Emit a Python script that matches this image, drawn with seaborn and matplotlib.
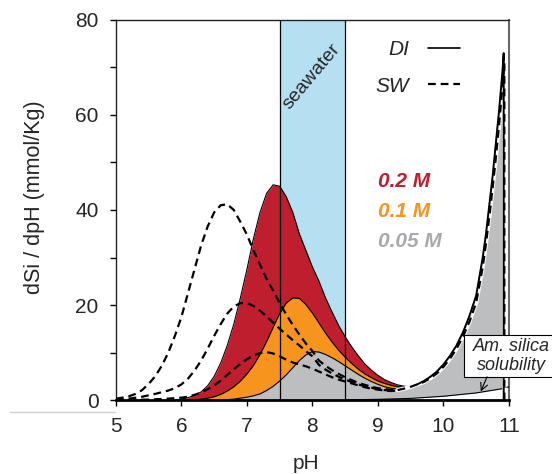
"""
dSi/dpH curves for DI and seawater (SW) at three silica concentrations.
Saves out.png (552x474).
"""

import matplotlib
matplotlib.use("Agg")  # headless-safe backend
import matplotlib.pyplot as plt
import matplotlib.lines as mlines
import matplotlib.patches as mpatches
from matplotlib.ticker import MultipleLocator
import pandas as pd
import seaborn as sns

# --- DI curves (filled) ---
ph_02 = [5.9, 6.0, 6.1, 6.2, 6.3, 6.4, 6.5, 6.6, 6.7, 6.8, 6.9, 7.0, 7.1, 7.2, 7.3,
         7.4, 7.5, 7.6, 7.7, 7.8, 7.9, 8.0, 8.1, 8.2, 8.3, 8.4, 8.5, 8.6, 8.7, 8.8,
         8.9, 9.0, 9.1, 9.2, 9.3, 9.4, 9.5, 9.6]
di_02 = [0, 0.2, 0.5, 1.0, 1.7, 3.0, 5.0, 7.8, 11.5, 16, 21.5, 27.5, 34, 39.5, 43.5,
         45.3, 45, 42.8, 39.5, 35, 31.5, 28, 25, 21.5, 18.5, 15.7, 13.3, 11.2, 9.3, 7.6,
         6.3, 5.2, 4.3, 3.7, 3.2, 2.9, 2.8, 3.3]

ph_01 = [6.2, 6.3, 6.4, 6.5, 6.6, 6.7, 6.8, 6.9, 7.0, 7.1, 7.2, 7.3, 7.4, 7.5, 7.6,
         7.7, 7.8, 7.9, 8.0, 8.1, 8.2, 8.3, 8.4, 8.5, 8.6, 8.7, 8.8, 8.9, 9.0, 9.1,
         9.2, 9.3, 9.4, 9.5, 9.6]
di_01 = [0, 0.2, 0.4, 0.7, 1.2, 1.9, 2.8, 4.0, 5.5, 7.3, 9.6, 12.3, 15.3, 18.2, 20.4,
         21.5, 21.4, 20.1, 18.3, 16.2, 14.1, 12.2, 10.5, 9.0, 7.7, 6.5, 5.5, 4.7, 4.0, 3.5,
         3.1, 2.8, 2.7, 2.7, 3.3]

ph_005 = [6.6, 6.8, 6.9, 7.0, 7.1, 7.2, 7.3, 7.4, 7.5, 7.6, 7.7, 7.8, 7.9, 8.0, 8.1,
          8.2, 8.3, 8.4, 8.5, 8.6, 8.7, 8.8, 8.9, 9.0, 9.1, 9.2, 9.3, 9.4, 9.5, 9.6,
          9.7, 9.8, 9.9, 10.0, 10.1, 10.2, 10.3, 10.4, 10.5, 10.6, 10.65, 10.7, 10.75,
          10.8, 10.85, 10.9, 10.92, 10.92]
di_005 = [0, 0.2, 0.4, 0.6, 0.9, 1.3, 2.0, 2.9, 4.0, 5.3, 6.8, 8.3, 9.5, 10.2, 10.1,
          9.6, 8.9, 8.1, 7.2, 6.3, 5.4, 4.6, 3.9, 3.3, 2.8, 2.5, 2.3, 2.4, 2.7, 3.3,
          4.0, 4.9, 6.0, 7.5, 9.3, 11.5, 14.3, 17.8, 22, 30, 35, 41, 47,
          54, 61, 69, 73, 0]

# --- SW curves (dashed) ---
ph_sw02 = [5.0, 5.1, 5.2, 5.3, 5.4, 5.5, 5.6, 5.7, 5.8, 5.9, 6.0, 6.1, 6.2, 6.3, 6.4,
           6.5, 6.6, 6.7, 6.8, 6.9, 7.0, 7.1, 7.2, 7.3, 7.4, 7.5, 7.6, 7.7, 7.8, 7.9,
           8.0, 8.1, 8.2, 8.3, 8.4, 8.5, 8.6, 8.7, 8.8, 8.9, 9.0, 9.1, 9.2, 9.3]
sw_02 = [0.3, 0.5, 0.8, 1.3, 2.1, 3.4, 5.0, 7.2, 10.0, 13.5, 17.5, 22.5, 27.5, 32.5, 36.5,
         39.5, 41.0, 41.2, 40.0, 37.5, 34.8, 31.5, 28.5, 25.5, 23, 20.4, 18, 15.8, 13.8, 11.9,
         10.3, 8.3, 7.2, 6.3, 5.5, 4.8, 4.2, 3.6, 3.2, 2.8, 2.5, 2.3, 2.2, 2.3]

ph_sw01 = [5.0, 5.2, 5.4, 5.6, 5.8, 5.9, 6.0, 6.1, 6.2, 6.3, 6.4, 6.5, 6.6, 6.7, 6.8,
           6.9, 7.0, 7.1, 7.2, 7.3, 7.4, 7.5, 7.6, 7.7, 7.8, 7.9, 8.0, 8.1, 8.2, 8.3,
           8.4, 8.5, 8.6, 8.7, 8.8, 8.9, 9.0, 9.1, 9.2, 9.3]
sw_01 = [0.1, 0.3, 0.7, 1.3, 2.0, 2.5, 3.3, 4.5, 6.2, 8.3, 10.8, 13.5, 16, 18.2, 19.7,
         20.4, 20.4, 19.8, 18.8, 17.6, 16.3, 15.0, 13.8, 12.6, 11.5, 10.3, 9.2, 7.4, 6.4, 5.6,
         4.9, 4.3, 3.8, 3.3, 2.9, 2.6, 2.3, 2.1, 2.0, 2.1]

ph_sw005 = [5.0, 5.5, 5.8, 6.0, 6.1, 6.2, 6.3, 6.4, 6.5, 6.6, 6.7, 6.8, 6.9, 7.0, 7.1,
            7.2, 7.3, 7.4, 7.5, 7.6, 7.7, 7.8, 7.9, 8.0, 8.1, 8.2, 8.3, 8.4, 8.5, 8.6,
            8.7, 8.8, 8.9, 9.0, 9.1, 9.2, 9.3]
sw_005 = [0, 0.1, 0.3, 0.5, 0.7, 1.1, 1.6, 2.3, 3.1, 4.1, 5.3, 6.5, 7.6, 8.6, 9.4,
          9.9, 10.1, 9.8, 9.2, 8.5, 7.9, 7.5, 7.1, 6.6, 6.0, 5.4, 4.8, 4.3, 3.9, 3.5,
          3.1, 2.7, 2.4, 2.2, 2.0, 1.9, 2.0]

# shared SW rise at high pH
ph_swrise = [9.3, 9.4, 9.5, 9.6, 9.7, 9.8, 9.9, 10.0, 10.1, 10.2, 10.3, 10.4, 10.5,
             10.6, 10.65, 10.7, 10.75, 10.8, 10.85, 10.9, 10.93, 10.93]
sw_rise = [2.1, 2.4, 2.8, 3.3, 3.8, 4.6, 5.6, 7.0, 8.7, 10.8, 13.4, 16.6, 20.5,
           28, 33, 38.5, 44.5, 51, 58, 66, 71, 0]

# amorphous silica solubility
ph_sol = [8.5, 9.0, 9.5, 10.0, 10.5, 10.9, 11.0]
sol = [0.05, 0.15, 0.35, 0.8, 1.5, 2.4, 2.8]

seawater_ph = [7.5, 8.5]
conc_labels = ["0.2 M", "0.1 M", "0.05 M"]
conc_label_y = [46, 39.6, 33.3]

RED = "#BE1E2D"
ORANGE = "#F7941D"
GREY = "#BCBEC0"
GREY_TXT = "#A7A9AC"
BLUE = "#B5E0F2"
DASH = (0, (3.5, 2.2))

sns.set_style("ticks")
plt.rcParams["font.family"] = ["Liberation Sans", "DejaVu Sans"]

fig = plt.figure(figsize=(5.52, 4.74), dpi=100)
ax = fig.add_axes([0.210, 0.156, 0.712, 0.802])

# seawater band
ax.axvspan(seawater_ph[0], seawater_ph[1], color=BLUE, lw=0, zorder=0.5)

# DI fills
for ph, di, c, z in [(ph_02, di_02, RED, 1), (ph_01, di_01, ORANGE, 2), (ph_005, di_005, GREY, 3)]:
    ax.fill_between(ph, di, color=c, lw=0, zorder=z)
    ax.plot(ph, di, color="black", lw=0.8, zorder=z + 0.1)
ax.fill_between(ph_sol[:-1], sol[:-1], color="white", lw=0, zorder=3.2)
ax.plot(ph_sol, sol, color="black", lw=0.8, zorder=3.3)

for v in seawater_ph:
    ax.axvline(v, color="black", lw=0.9, zorder=4)

# SW dashed lines
sw = pd.concat([
    pd.DataFrame({"pH": ph_sw02, "dSi": sw_02, "set": "0.2"}),
    pd.DataFrame({"pH": ph_sw01, "dSi": sw_01, "set": "0.1"}),
    pd.DataFrame({"pH": ph_sw005, "dSi": sw_005, "set": "0.05"}),
])
for name, d in sw.groupby("set"):
    sns.lineplot(data=d, x="pH", y="dSi", ax=ax, color="black", lw=1.6,
                 linestyle=DASH, sort=False, estimator=None, zorder=5)
ax.plot(ph_swrise, sw_rise, color="white", lw=3, zorder=5)
sns.lineplot(x=ph_swrise, y=sw_rise, ax=ax, color="black", lw=1.6,
             linestyle=DASH, sort=False, estimator=None, zorder=5.5)
ax.plot(ph_005[29:], di_005[29:], color="black", lw=1.4, zorder=5.6)

# axes styling
ax.set_xlim(5, 11)
ax.set_ylim(0, 80)
ax.set_xlabel("")
ax.set_ylabel("")
ax.xaxis.set_major_locator(MultipleLocator(1))
ax.yaxis.set_major_locator(MultipleLocator(20))
ax.yaxis.set_minor_locator(MultipleLocator(10))
ax.tick_params(axis="both", which="both", direction="out", length=4.5, width=1,
               labelsize=15, color="black")
ax.tick_params(axis="y", pad=8)
ax.tick_params(axis="x", pad=8)
for s in ["left", "top"]:
    ax.spines[s].set_visible(True)
    ax.spines[s].set_color("#222222")
    ax.spines[s].set_linewidth(1)
ax.spines["right"].set_visible(True)
ax.spines["right"].set_color("#666666")
ax.spines["right"].set_linewidth(1.5)
ax.spines["bottom"].set_color("black")
ax.spines["bottom"].set_linewidth(2)
ax.spines["bottom"].set_zorder(6)

# labels
fig.text(35 / 552, 1 - 197 / 474, "dSi / dpH (mmol/Kg)", rotation=90,
         ha="center", va="center", fontsize=15.5)
fig.text(306 / 552, 5 / 474, "pH", ha="center", va="baseline", fontsize=15)

ax.text(7.99, 68, "seawater", rotation=50, ha="center", va="center",
        fontsize=14, zorder=7)

for lab, y, c in zip(conc_labels, conc_label_y, [RED, ORANGE, GREY_TXT]):
    ax.text(9.0, y, lab, color=c, fontsize=15, fontweight="bold", fontstyle="italic",
            ha="left", va="center", zorder=7)

handles = [mlines.Line2D([], [], color="black", lw=1.2),
           mlines.Line2D([], [], color="black", lw=1.6, linestyle=DASH)]
leg = ax.legend(handles, ["DI", "SW"], loc="upper right", bbox_to_anchor=(0.875, 0.947),
                bbox_transform=ax.transAxes, markerfirst=False, frameon=False,
                handlelength=1.55, handletextpad=0.9, labelspacing=0.85,
                borderpad=0, borderaxespad=0, prop={"style": "italic", "size": 15})
leg.set_zorder(7)

# "Am. silica solubility" callout: open box running off the right edge
ax.add_patch(mpatches.Rectangle((10.31, 4.84), 2.2, 8.86, fc="white", ec="black",
                                lw=0.8, clip_on=False, zorder=8))
ax.annotate("Am. silica\nsolubility", xy=(10.57, 1.8), xytext=(11.04, 9.3),
            ha="center", va="center", fontsize=13, fontstyle="italic",
            linespacing=1.1, annotation_clip=False, zorder=9,
            arrowprops=dict(arrowstyle="->", lw=0.8, color="black",
                            shrinkA=0, shrinkB=0, relpos=(0.2, 0.0)))

# faint guide lines left of the zero label
fig.add_artist(mlines.Line2D([10 / 552, 115 / 552], [1 - 412 / 474, 1 - 412 / 474],
                             color="#d0d0d0", lw=1))

fig.savefig("out.png", dpi=100)
plt.close()
